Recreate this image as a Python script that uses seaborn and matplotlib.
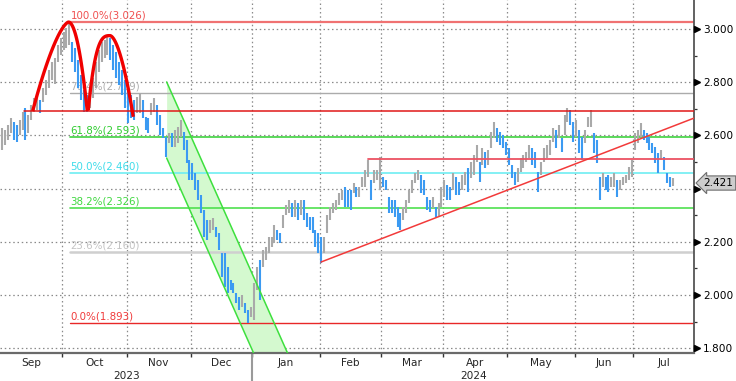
import numpy as np
import pandas as pd
import matplotlib
matplotlib.use("Agg")
import matplotlib.pyplot as plt
import matplotlib.transforms as mtransforms
import seaborn as sns

# daily high / low, one line per month (Sep 2023 .. Jul 2024)
start_date = "2023-09-01"
highs = [
    2.628, 2.620, 2.639, 2.665, 2.650, 2.639, 2.658, 2.688, 2.703, 2.677, 2.714, 2.741, 2.748, 2.733, 2.778, 2.808, 2.846, 2.876, 2.891, 2.940, 2.966,
    2.989, 3.004, 3.026, 2.951, 2.929, 2.883, 2.827, 2.771, 2.752, 2.778, 2.816, 2.876, 2.921, 2.951, 2.959, 2.974, 2.966, 2.940, 2.914, 2.876, 2.846, 2.808,
    2.771, 2.752, 2.733, 2.744, 2.759, 2.733, 2.669, 2.665, 2.722, 2.741, 2.714, 2.677, 2.628, 2.594, 2.609, 2.609, 2.620, 2.632, 2.658, 2.613, 2.583, 2.508,
    2.496, 2.459, 2.432, 2.376, 2.320, 2.282, 2.282, 2.289, 2.256, 2.233, 2.158, 2.158, 2.105, 2.056, 2.045, 2.008, 1.993, 2.000, 1.970, 1.944, 1.955,
    2.045, 2.105, 2.132, 2.169, 2.181, 2.218, 2.218, 2.263, 2.244, 2.233, 2.301, 2.338, 2.357, 2.346, 2.357, 2.346, 2.357, 2.357, 2.308, 2.293, 2.293, 2.244, 2.233,
    2.218, 2.218, 2.301, 2.331, 2.346, 2.357, 2.384, 2.395, 2.406, 2.395, 2.395, 2.421, 2.406, 2.406, 2.444, 2.470, 2.508, 2.432, 2.470, 2.470, 2.519,
    2.444, 2.432, 2.368, 2.357, 2.357, 2.331, 2.308, 2.331, 2.357, 2.395, 2.432, 2.459, 2.470, 2.451, 2.432, 2.368, 2.357, 2.368, 2.331, 2.346, 2.406,
    2.432, 2.414, 2.406, 2.459, 2.444, 2.425, 2.451, 2.462, 2.477, 2.500, 2.526, 2.564, 2.500, 2.553, 2.538, 2.545, 2.613, 2.650, 2.628, 2.613, 2.602, 2.575,
    2.553, 2.489, 2.462, 2.477, 2.515, 2.526, 2.538, 2.564, 2.553, 2.538, 2.462, 2.500, 2.553, 2.564, 2.583, 2.628, 2.620, 2.639, 2.590, 2.677, 2.703, 2.695, 2.650,
    2.658, 2.620, 2.594, 2.620, 2.669, 2.695, 2.609, 2.583, 2.444, 2.459, 2.444, 2.451, 2.444, 2.459, 2.432, 2.432, 2.444, 2.451, 2.481, 2.508,
    2.609, 2.620, 2.647, 2.620, 2.609, 2.594, 2.571, 2.556, 2.534, 2.545, 2.519, 2.459, 2.444, 2.440,
]
lows = [
    2.545, 2.564, 2.583, 2.609, 2.583, 2.575, 2.602, 2.620, 2.583, 2.609, 2.658, 2.688, 2.695, 2.684, 2.726, 2.752, 2.778, 2.808, 2.793, 2.876, 2.902,
    2.921, 2.929, 2.940, 2.876, 2.838, 2.778, 2.733, 2.688, 2.688, 2.703, 2.741, 2.778, 2.838, 2.876, 2.891, 2.902, 2.883, 2.846, 2.816, 2.789, 2.752, 2.703,
    2.647, 2.665, 2.658, 2.684, 2.684, 2.665, 2.620, 2.609, 2.677, 2.688, 2.639, 2.602, 2.590, 2.519, 2.571, 2.556, 2.556, 2.571, 2.594, 2.545, 2.496, 2.432,
    2.432, 2.395, 2.357, 2.308, 2.218, 2.207, 2.233, 2.244, 2.218, 2.169, 2.068, 2.030, 2.008, 2.019, 2.008, 1.970, 1.944, 1.955, 1.932, 1.893, 1.917,
    1.906, 2.019, 1.981, 2.105, 2.132, 2.158, 2.181, 2.196, 2.207, 2.196, 2.252, 2.301, 2.308, 2.293, 2.293, 2.282, 2.301, 2.282, 2.256, 2.244, 2.233, 2.181, 2.158,
    2.120, 2.158, 2.233, 2.282, 2.308, 2.320, 2.338, 2.357, 2.331, 2.331, 2.320, 2.384, 2.368, 2.368, 2.406, 2.406, 2.444, 2.357, 2.421, 2.432, 2.395,
    2.406, 2.395, 2.308, 2.308, 2.293, 2.256, 2.244, 2.282, 2.308, 2.346, 2.384, 2.421, 2.432, 2.384, 2.376, 2.320, 2.312, 2.327, 2.293, 2.293, 2.331,
    2.368, 2.357, 2.357, 2.395, 2.376, 2.376, 2.395, 2.414, 2.387, 2.440, 2.451, 2.500, 2.425, 2.489, 2.477, 2.489, 2.553, 2.590, 2.575, 2.564, 2.553, 2.526,
    2.489, 2.440, 2.414, 2.425, 2.462, 2.477, 2.500, 2.515, 2.489, 2.477, 2.387, 2.451, 2.500, 2.515, 2.526, 2.575, 2.553, 2.590, 2.538, 2.602, 2.650, 2.639, 2.575,
    2.594, 2.534, 2.508, 2.571, 2.632, 2.632, 2.534, 2.496, 2.357, 2.406, 2.395, 2.387, 2.406, 2.406, 2.368, 2.395, 2.414, 2.421, 2.432, 2.444,
    2.545, 2.571, 2.594, 2.583, 2.571, 2.545, 2.534, 2.496, 2.459, 2.508, 2.470, 2.421, 2.406, 2.410,
]
last_price = 2.421

# Fibonacci retracement between the Oct high and Dec low
fib_pcts = ["100.0%", "76.4%", "61.8%", "50.0%", "38.2%", "23.6%", "0.0%"]
fib_levels = [3.026, 2.759, 2.593, 2.460, 2.326, 2.160, 1.893]
fib_colors = ["#f07272", "#ababab", "#3fd23f", "#6eeef2", "#4fe04f", "#cfcfcf", "#e82828"]
fib_text_colors = ["#f05050", "#b0b0b0", "#2fcc2f", "#3fdcea", "#3fd83f", "#c4c4c4", "#f03a3a"]
fib_widths = [1.6, 1.0, 1.2, 1.2, 1.2, 1.8, 1.0]
fib_start = 23.2

# drawn studies
neckline = 2.692
neckline_start = 7.5
resistance = 2.511
resistance_start = 124.9
trend_x = [108.9, 236.2]
trend_y = [2.124, 2.665]
channel_x = [56.2, 100.0]
channel_top = 2.801
channel_bottom = 2.515
channel_slope = -0.0247
# double top arcs: left base, peak, right base (x and y), curve exponents
arc_x = [(10.48, 22.70, 29.11), (29.45, 36.86, 44.81)]
arc_y = [(2.692, 3.026, 2.692), (2.695, 2.975, 2.670)]
arc_pow = [(1.5, 2.0), (3.0, 1.75)]

x_min, x_max = -0.68, 236.2
y_min, y_max = 1.782, 3.109

sns.set_style("white")
plt.rcParams["font.family"] = ["DejaVu Sans"]

n = len(highs)
dates = pd.bdate_range(start_date, periods=260)
df = pd.DataFrame({"x": np.arange(n), "high": highs, "low": lows})
mid = (df["high"] + df["low"]) / 2
df["color"] = np.where(mid.diff().fillna(1) >= 0, "#a9a9a9", "#3b9af2")

fig = plt.figure(figsize=(7.36, 3.81), dpi=100)
ax = fig.add_axes([0, 28 / 381, 694 / 736, 353 / 381])
ax.set_xlim(x_min, x_max)
ax.set_ylim(y_min, y_max)

# month boundaries
months = pd.Series(dates.to_period("M"))
starts = months.index[months != months.shift()].tolist()
bounds = [s - 0.5 for s in starts if x_min + 1 < s - 0.5 < x_max]
grid_kw = dict(color="#8a8a8a", lw=0.9, ls=(0, (1.2, 2.2)), zorder=0.5)
for b in bounds:
    ax.axvline(b, **grid_kw)
ticks_major = np.arange(1.8, 3.01, 0.2)
for t in ticks_major:
    ax.axhline(t, **grid_kw)

# channel
cx = np.array(channel_x)
upper = channel_top + channel_slope * (cx - cx[0])
lower = channel_bottom + channel_slope * (cx - cx[0])
ax.fill_between(cx, lower, upper, color="#d4f9cf", lw=0, zorder=1)
ax.plot(cx, upper, color="#3ee03e", lw=1.1, zorder=4)
ax.plot(cx, lower, color="#3ee03e", lw=1.1, zorder=4)

# fib levels
for pct, lvl, c, tc, w in zip(fib_pcts, fib_levels, fib_colors, fib_text_colors, fib_widths):
    ax.plot([fib_start, x_max], [lvl, lvl], color=c, lw=w, zorder=2)
    ax.text(fib_start + 0.2, lvl + 0.006, f"{pct}({lvl:.3f})", color=tc,
            fontsize=7.4, ha="left", va="bottom", zorder=2)

# bars
ax.vlines(df["x"], df["low"], df["high"], colors=df["color"], lw=1.5, zorder=3)

# drawn lines
ax.plot([neckline_start, x_max], [neckline, neckline], color="#e01818", lw=1.1, zorder=4)
ax.plot([resistance_start, x_max], [resistance, resistance], color="#ec5262", lw=1.3, zorder=4)
sns.lineplot(x=trend_x, y=trend_y, color="#f23a3a", lw=1.1, ax=ax, zorder=4)

for (x0, xp, x1), (y0, yp, y1), (pl, pr) in zip(arc_x, arc_y, arc_pow):
    s = np.linspace(-1, 0, 60)
    xl = xp + (xp - x0) * s
    yl = y0 + (yp - y0) * (1 - np.abs(s) ** pl)
    s = np.linspace(0, 1, 60)
    xr = xp + (x1 - xp) * s
    yr = y1 + (yp - y1) * (1 - s ** pr)
    ax.plot(np.r_[xl, xr], np.r_[yl, yr], color="#f00000", lw=2.4,
            solid_capstyle="butt", zorder=5)

# spines
for side in ["left", "top"]:
    ax.spines[side].set_visible(False)
ax.spines["bottom"].set_color("#6a6a6a")
ax.spines["bottom"].set_linewidth(1.6)
ax.spines["right"].set_color("#555555")
ax.spines["right"].set_linewidth(1.3)

# y axis on the right (2.400 sits under the last-price tag)
ax.yaxis.tick_right()
ax.set_yticks(ticks_major)
ax.set_yticklabels(["" if abs(t - 2.4) < 1e-6 else f"{t:.3f}" for t in ticks_major])
ax.set_yticks(np.arange(1.9, 3.01, 0.2), minor=True)
ax.tick_params(axis="y", which="major", length=0, pad=6.5, labelsize=7.6, colors="black")
ax.tick_params(axis="y", which="minor", length=2.5, width=0.9, color="#333333", right=True)
tr = mtransforms.blended_transform_factory(ax.transAxes, ax.transData)
ax.plot([1.0045] * len(ticks_major), ticks_major, ls="none", marker=">", ms=4.2,
        color="black", transform=tr, clip_on=False, zorder=6)

ax.annotate(f"{last_price:.3f}", xy=(1.014, last_price), xycoords=tr,
            ha="left", va="center", fontsize=7.6, color="black", zorder=10,
            annotation_clip=False,
            bbox=dict(boxstyle="larrow,pad=0.2", fc="#cdcdcd", ec="#6d6d6d", lw=0.8))

# x axis: month separators, labels, years
ax.set_xticks(bounds)
ax.set_xticklabels([])
ax.tick_params(axis="x", which="major", length=3, width=1, color="#333333", bottom=True)
edges = [x_min] + bounds + [x_max]
bx = mtransforms.blended_transform_factory(ax.transData, ax.transAxes)
for i in range(len(edges) - 1):
    center = (edges[i] + edges[i + 1]) / 2
    idx = int(np.ceil(edges[i] + 0.5)) if i > 0 else 0
    label = dates[idx].strftime("%b")
    ax.text(center, -0.029, label, transform=bx, ha="center", va="center", fontsize=7.6)

year_break = [b for b in bounds if dates[int(b + 0.5)].month == 1][0]
ax.plot([year_break, year_break], [0, -0.08], transform=bx, color="#9a9a9a",
        lw=1.5, clip_on=False)
ax.text((x_min + year_break) / 2, -0.065, "2023", transform=bx, ha="center", va="center", fontsize=7.6)
ax.text((year_break + x_max) / 2, -0.065, "2024", transform=bx, ha="center", va="center", fontsize=7.6)

ax.set_xlabel("")
ax.set_ylabel("")
fig.savefig("out.png", dpi=100)
